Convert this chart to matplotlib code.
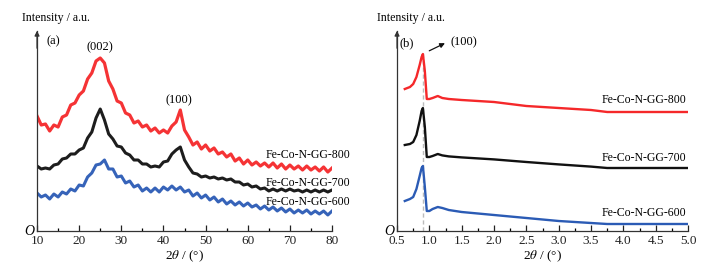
import matplotlib

matplotlib.use("Agg")
import matplotlib.pyplot as plt
from matplotlib.ticker import MultipleLocator

plt.rcParams["font.family"] = ["Liberation Serif", "DejaVu Serif"]
plt.rcParams["mathtext.fontset"] = "stix"

RED = "#f5282a"
BLACK = "#111111"
BLUE = "#2b5bb5"
SAMPLES = ["Fe-Co-N-GG-800", "Fe-Co-N-GG-700", "Fe-Co-N-GG-600"]

# ---- panel (a): wide-angle XRD, 2theta 10..80 in 1 deg steps ----
two_theta_a = list(range(10, 81))
xrd_800 = [57.5, 53, 53.5, 50, 53, 52, 57, 58, 63, 64, 68, 70, 76, 79, 85, 86.5,
           84, 75, 71, 65, 64, 59, 58, 54, 55, 52, 53, 50, 51.5, 49, 50.5, 49,
           52.5, 54.5, 60.5, 50.5, 47, 43, 44.5, 41, 43, 40, 41.5, 38.5, 39.5, 37,
           38.5, 35, 36.5, 33.5, 35.5, 33, 34.5, 32.5, 34, 32, 34, 31.5, 33.5, 31,
           33, 31, 32.5, 30.5, 32.5, 30.5, 32, 30, 32, 29.5, 31.5]
xrd_700 = [32.5, 31, 31.5, 31, 33, 33.5, 36, 36.5, 38.5, 38.5, 40.5, 41.5, 46.5,
           49.5, 56.5, 61, 55.5, 48.5, 46, 42.5, 42, 39, 38, 35.5, 35.5, 33.5,
           33.5, 32, 32.5, 32, 34.5, 35, 38.5, 40.5, 42, 35.5, 32, 29, 28.5, 27,
           27.5, 26.5, 27, 26, 26.5, 25.5, 26, 24.5, 24.5, 23, 23.5, 22, 22.5, 21,
           21.5, 20, 21, 20, 21, 20, 21, 20, 20.5, 19.5, 20.5, 19.5, 20.5, 19.5,
           20.5, 19.5, 20.5]
xrd_600 = [19, 17, 18, 16, 18.5, 17, 19.5, 18.5, 21, 20, 23, 22.5, 27, 29, 33,
           33.5, 35.5, 31, 31, 27, 27.5, 24, 25, 22, 23, 20, 21.5, 19.5, 21.5,
           19.5, 22, 20.5, 22.5, 20.5, 22, 19.5, 20.5, 17.5, 19, 16.5, 18, 15.5,
           17, 14.5, 16, 13.5, 15, 13, 14.5, 12.5, 14, 12, 13, 11, 12.5, 10.5, 12,
           10, 11.5, 9.5, 11, 9, 10.5, 9, 10.5, 8.5, 10, 8.5, 10, 8, 10]

# ---- panel (b): small-angle XRD ----
two_theta_b = [0.62, 0.70, 0.75, 0.80, 0.85, 0.88, 0.90, 0.93, 0.96, 1.00, 1.05,
               1.13, 1.20, 1.30, 1.50, 2.00, 2.50, 3.00, 3.50, 3.75, 4.00, 4.50, 5.00]
saxs_800 = [71, 72, 73.5, 77, 83, 87, 88.5, 80, 66, 66, 66.5, 67.5, 66.5, 66,
            65.5, 64.5, 62.5, 61.5, 60.5, 59.5, 59.5, 59.5, 59.5]
saxs_700 = [43, 43.5, 44.5, 48, 55, 60, 61.5, 52, 37, 37, 37.5, 38.5, 37.8, 37.3,
            36.8, 35.8, 34.5, 33.3, 32.2, 31.5, 31.5, 31.5, 31.5]
saxs_600 = [15, 16, 17, 21, 27.5, 31.5, 32.5, 22, 10, 10, 11, 12, 11.5, 10.5,
            9.5, 8, 6.5, 5, 4, 3.5, 3.5, 3.5, 3.5]


def style_axes(ax, fig, xmin, xmax, major, minor, fmt, ylabel_x):
    ax.set_xlim(xmin, xmax)
    ax.set_ylim(0, 100)
    for s in ("top", "right"):
        ax.spines[s].set_visible(False)
    for s in ("left", "bottom"):
        ax.spines[s].set_color("#333333")
        ax.spines[s].set_linewidth(0.9)
    ax.set_yticks([])
    ax.xaxis.set_major_locator(MultipleLocator(major))
    ax.xaxis.set_minor_locator(MultipleLocator(minor))
    ax.tick_params(axis="x", which="major", direction="in", length=4, width=0.9,
                   labelsize=9.5, pad=3, colors="#222222")
    ax.tick_params(axis="x", which="minor", direction="in", length=2, width=0.9)
    ax.xaxis.set_major_formatter(fmt)
    ax.set_xlabel(r"2$\it{\theta}$ / (°)", fontsize=9.5, labelpad=1)
    # arrow head on the y axis
    ax.annotate("", xy=(0, 1.015), xytext=(0, 0.9), xycoords="axes fraction",
                arrowprops=dict(arrowstyle="-|>", color="#333333", lw=0.9,
                                mutation_scale=7))
    ax.text(-0.01, 0.0, "O", transform=ax.transAxes, ha="right", va="center",
            fontsize=10, style="italic")
    fig.text(ylabel_x, 0.935, "Intensity / a.u.", fontsize=8.6, ha="left", va="center")


fig = plt.figure(figsize=(7.19, 2.71), dpi=100)
ax_a = fig.add_axes([0.0515, 0.1476, 0.4103, 0.738])
ax_b = fig.add_axes([0.5522, 0.1476, 0.4047, 0.738])

# (a) -- the noisy traces are drawn as thick lines to give the band look
for y, c, w in zip([xrd_800, xrd_700, xrd_600], [RED, BLACK, BLUE], [2.3, 2.2, 2.2]):
    ax_a.plot(two_theta_a, y, color=c, lw=w, alpha=0.95)
style_axes(ax_a, fig, 10, 80, 10, 5, lambda v, p: f"{v:.0f}", 0.031)
ax_a.text(13.8, 95, "(a)", fontsize=9, ha="center", va="center")
ax_a.text(25, 92, "(002)", fontsize=9, ha="center", va="center")
ax_a.text(43.7, 65.5, "(100)", fontsize=9, ha="center", va="center")
for lab, yy in zip(SAMPLES, [38, 24, 14.5]):
    ax_a.text(84.3, yy, lab, fontsize=8.5, ha="right", va="center", clip_on=False)

# (b)
ax_b.plot([0.905, 0.905], [0, 90], color="#bbbbbb", lw=1, ls=(0, (3, 2)))
for y, c in zip([saxs_800, saxs_700, saxs_600], [RED, BLACK, BLUE]):
    ax_b.plot(two_theta_b, y, color=c, lw=1.7)
style_axes(ax_b, fig, 0.5, 5.0, 0.5, 0.25, lambda v, p: f"{v:.1f}", 0.525)
ax_b.text(0.65, 94, "(b)", fontsize=9, ha="center", va="center")
ax_b.annotate("", xy=(1.28, 94.5), xytext=(0.96, 89.5),
              arrowprops=dict(arrowstyle="-|>", color="#111111", lw=0.9,
                              mutation_scale=7))
ax_b.text(1.33, 94.5, "(100)", fontsize=9, ha="left", va="center")
for lab, yy in zip(SAMPLES, [65.5, 36.5, 9]):
    ax_b.text(4.98, yy, lab, fontsize=8.5, ha="right", va="center")

fig.savefig("out.png", dpi=100)
